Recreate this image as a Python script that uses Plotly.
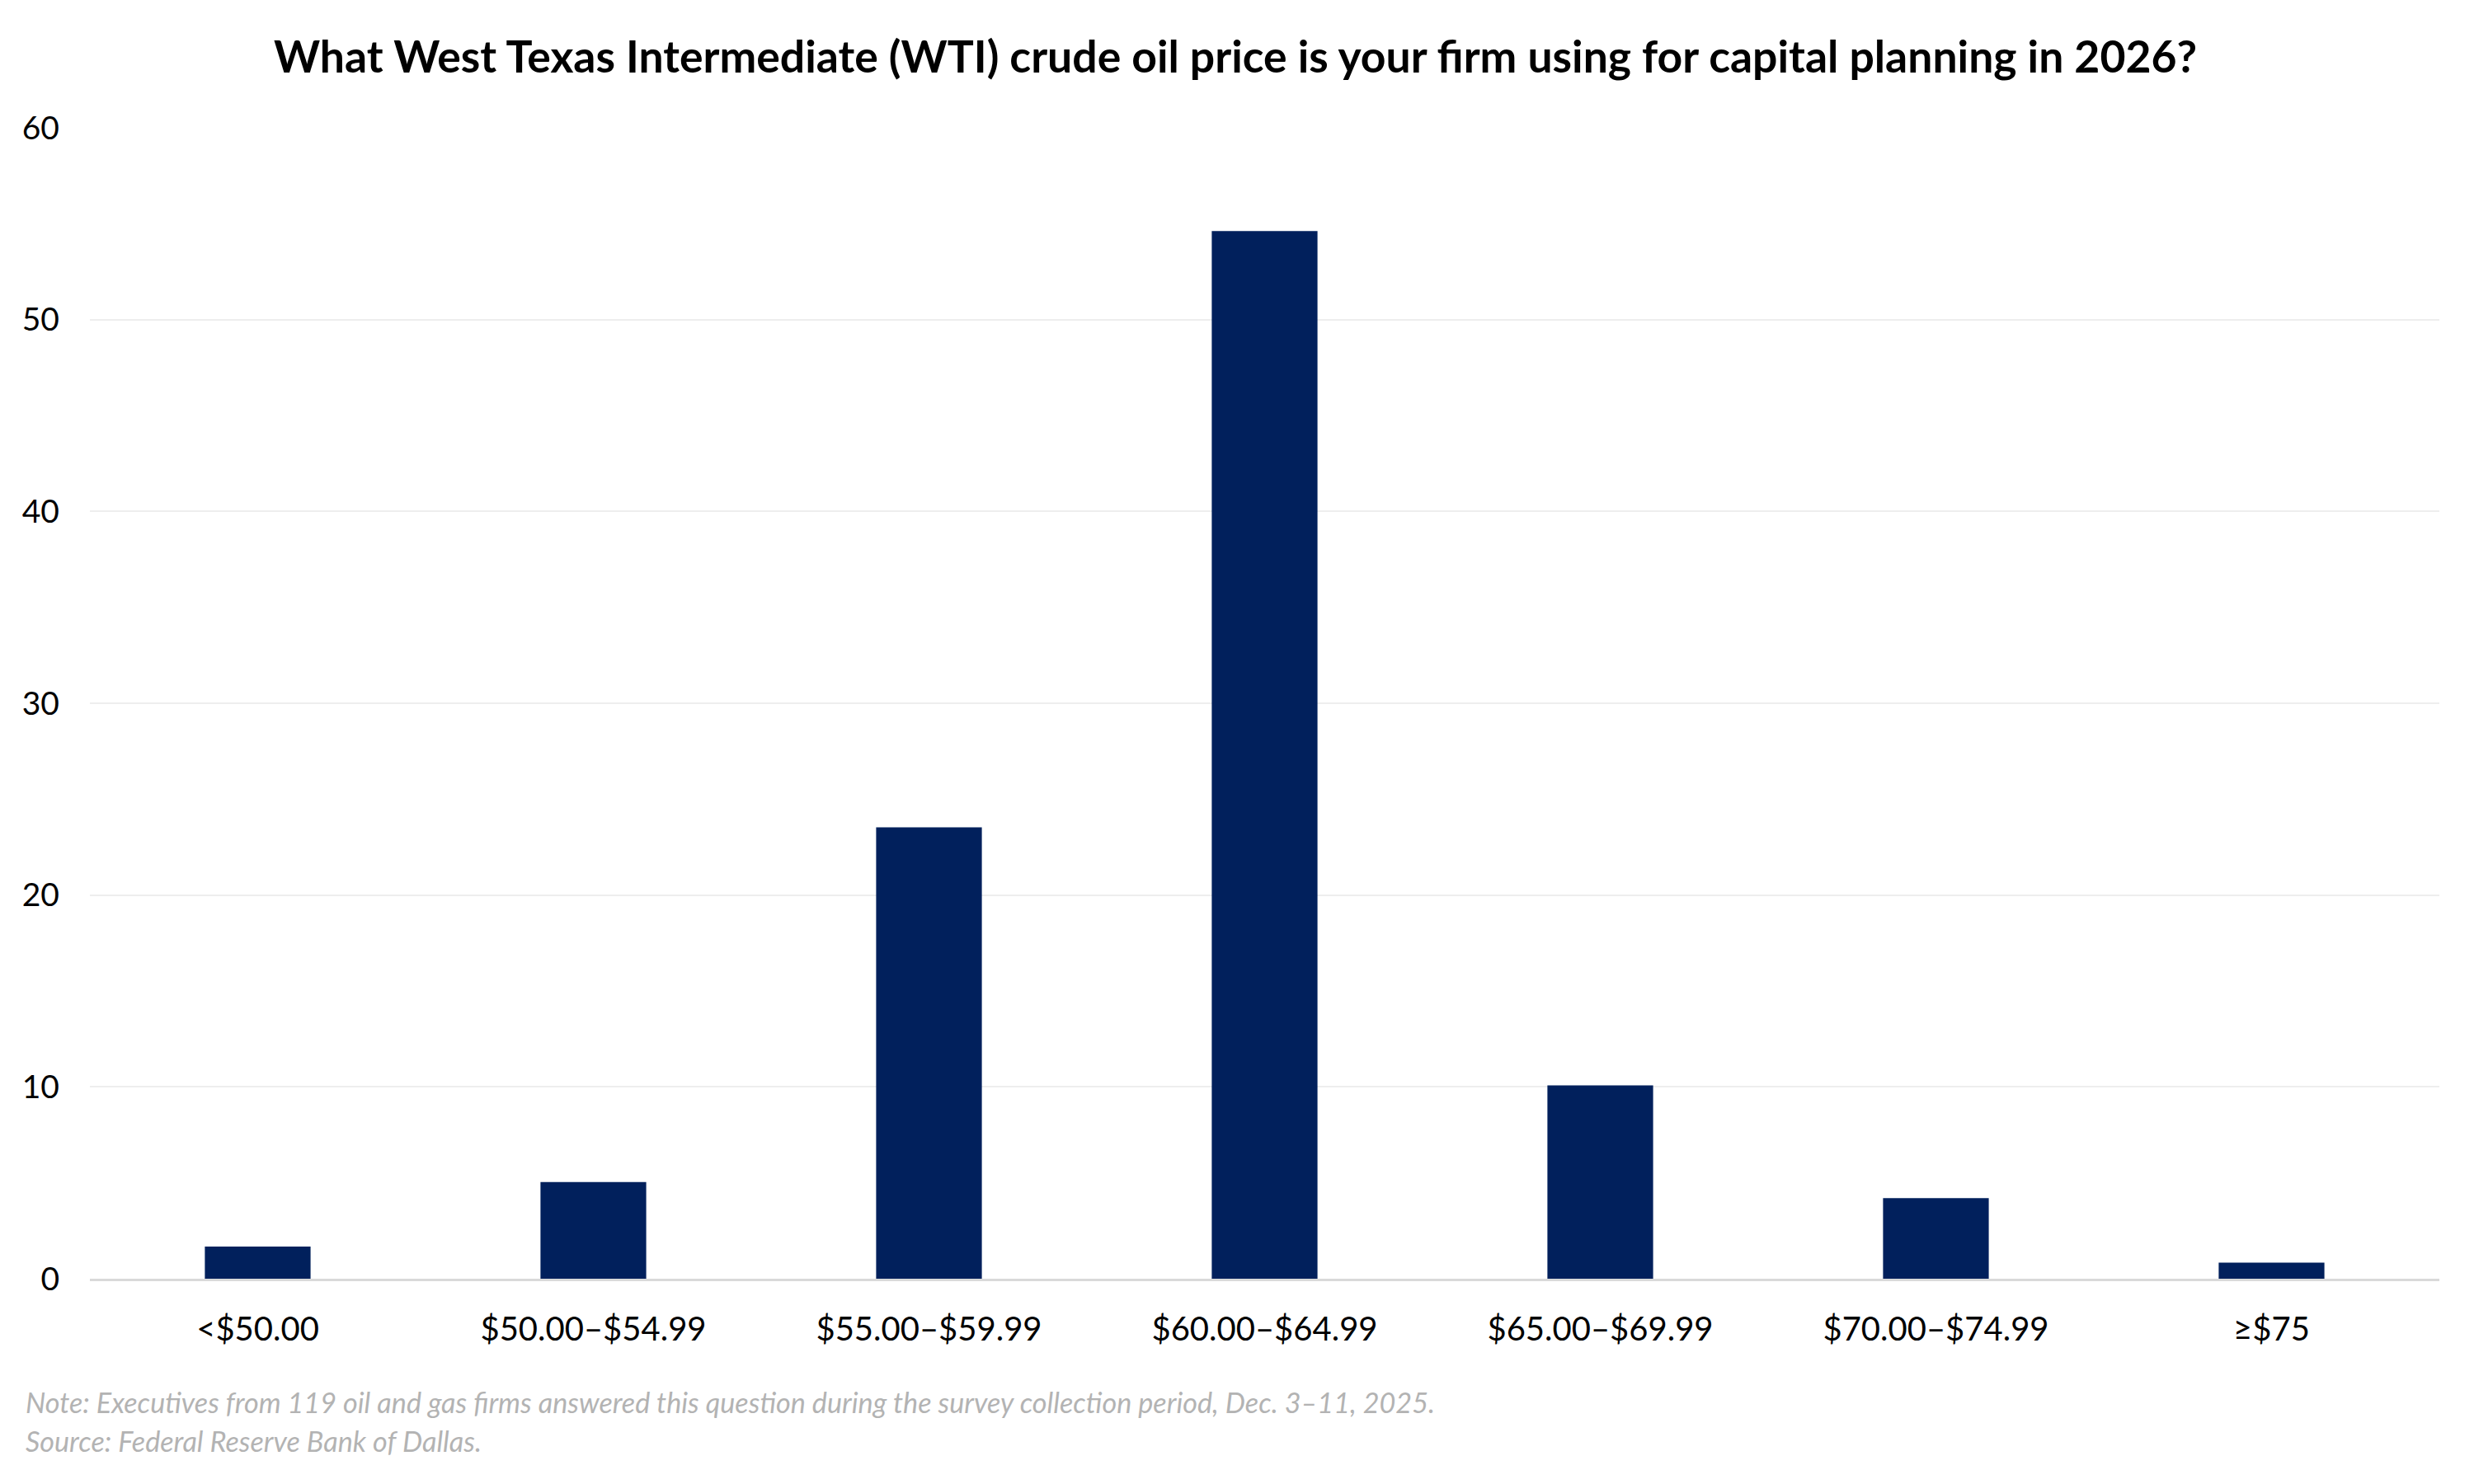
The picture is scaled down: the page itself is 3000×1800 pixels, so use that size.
import plotly.graph_objects as go

categories = ["<$50.00", "$50.00–$54.99", "$55.00–$59.99", "$60.00–$64.99",
              "$65.00–$69.99", "$70.00–$74.99", "≥$75"]
shares = [1.68, 5.04, 23.53, 54.62, 10.08, 4.20, 0.84]
y_ticks = [0, 10, 20, 30, 40, 50, 60]

title_text = "What West Texas Intermediate (WTI) crude oil price is your firm using for capital planning in 2026?"
note_text = "Note: Executives from 119 oil and gas firms answered this question during the survey collection period, Dec. 3–11, 2025."
source_text = "Source: Federal Reserve Bank of Dallas."

# page body has an 8px default margin; compensate
OFF = 8
W, H = 3000, 1800
L, R, T, B = 109 - OFF, 42 + OFF, 155 - OFF, 249 + OFF
plot_h = H - T - B
plot_w = W - L - R

fig = go.Figure()
fig.add_trace(go.Bar(
    x=categories, y=shares,
    marker=dict(color="#01205c", line=dict(width=0)),
    hoverinfo="x+y",
))

fig.update_layout(
    width=W, height=H,
    margin=dict(l=L, r=R, t=T, b=B, autoexpand=False),
    paper_bgcolor="white", plot_bgcolor="white",
    bargap=0.685,
    showlegend=False,
    font=dict(family="Lato, 'Open Sans', sans-serif", size=40, color="#000000"),
    title=dict(
        text="<b>" + title_text + "</b>",
        x=(1498 - OFF) / W, xanchor="center", xref="container",
        y=1 - (69 - OFF) / H, yanchor="middle", yref="container",
        font=dict(family="Lato, 'Open Sans', sans-serif", size=53.5, color="#000000"),
    ),
)

fig.update_xaxes(
    showgrid=False,
    showline=True, linecolor="#d9d9d9", linewidth=3,
    ticks="", tickfont=dict(size=40, color="#000000"),
    ticklabelstandoff=24,
)
fig.update_yaxes(
    range=[0, 60], tickvals=y_ticks,
    showgrid=True, gridcolor="#eeeeee", gridwidth=2,
    zeroline=False, showline=False,
    ticks="", tickfont=dict(size=39, color="#000000"),
    ticklabelstandoff=36,
)

note_color = "#b3b3b3"
note_x = (29 - OFF - L) / plot_w
fig.add_annotation(
    text="<i>" + note_text + "</i>",
    xref="paper", yref="paper",
    x=note_x, y=(H - B - (1700 - OFF)) / plot_h,
    xanchor="left", yanchor="middle", showarrow=False,
    font=dict(family="Lato, 'Open Sans', sans-serif", size=34.2, color=note_color),
)
fig.add_annotation(
    text="<i>" + source_text + "</i>",
    xref="paper", yref="paper",
    x=note_x, y=(H - B - (1747 - OFF)) / plot_h,
    xanchor="left", yanchor="middle", showarrow=False,
    font=dict(family="Lato, 'Open Sans', sans-serif", size=34.2, color=note_color),
)

fig.write_html("out.html")
